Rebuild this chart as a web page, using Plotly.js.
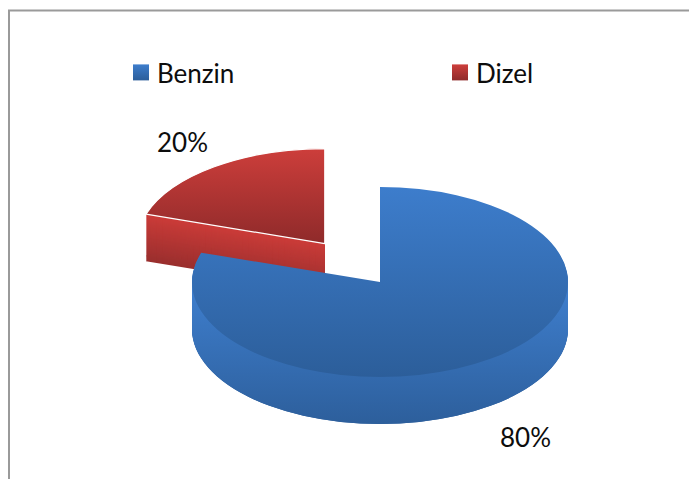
<!DOCTYPE html>
<html>
<head>
<meta charset="utf-8">
<script src="https://cdn.plot.ly/plotly-3.0.1.min.js"></script>
<style>html,body{margin:0;padding:0;background:#fff}#chart{width:689px;height:479px}</style>
</head>
<body>
<div id="chart"></div>
<script>
const categories = ['Benzin', 'Dizel'];
const shares = [80, 20];
const explode = [0, 0.5];

const W = 689, H = 479;
const FONT = 'Lato, "Open Sans", sans-serif';
const centre = {x: 380, y: 282}, radii = {x: 188, y: 95}, depth = 47;
const BLUE = {top: ['#3d7dcc', '#2c5e9a'], side: ['#3d7cca', '#2d5f9c']};
const RED = {top: ['#cd3e3b', '#8f2a2a'], side: ['#cc3c39', '#9a2f2e']};
const NONE = 'rgba(0,0,0,0)';

function mix(a, b, t) {
  const p = s => [1, 3, 5].map(i => parseInt(s.substr(i, 2), 16));
  const A = p(a), B = p(b);
  return 'rgb(' + A.map((v, i) => Math.round(v + (B[i] - v) * t)).join(',') + ')';
}

// Every layer is the same pie; layers stacked bottom to top make the extruded wall.
const layers = [];
layers.push({dy: depth, colors: [BLUE.side[1], RED.side[1]], legend: true});
for (let d = depth - 1; d >= 1; d--) layers.push({dy: d, colors: [NONE, mix(RED.side[0], RED.side[1], d / depth)], which: 1});
layers.push({dy: 0, colors: [NONE, RED.top[0]], which: 1, face: 'top', stroke: true});
for (let d = depth; d >= 1; d--) layers.push({dy: d, colors: [BLUE.side[0], NONE], which: 0, face: 'side'});
layers.push({dy: 0, colors: [BLUE.top[0], NONE], which: 0, face: 'top'});

const traces = layers.map(l => ({
  type: 'pie', labels: categories, values: shares, pull: explode,
  sort: false, direction: 'clockwise', rotation: 0,
  textinfo: 'none', hoverinfo: 'skip', showlegend: !!l.legend,
  domain: {x: [0, 1], y: [0, 1]},
  marker: {colors: l.colors, line: {color: '#ffffff', width: l.stroke ? [0, 1.2] : 0}}
}));

const total = shares.reduce((a, b) => a + b, 0);
const pct = shares.map(v => Math.round(v / total * 100) + '%');
const labelFont = {family: FONT, size: 26, color: '#0d0d0d'};

const layout = {
  width: W, height: H,
  margin: {l: 0, r: 0, t: 0, b: 0, autoexpand: false},
  paper_bgcolor: '#ffffff',
  showlegend: true,
  font: labelFont,
  legend: {
    orientation: 'h', x: 117 / W, xanchor: 'left', y: 1 - 49 / H, yanchor: 'top',
    entrywidth: 274, entrywidthmode: 'pixels', bgcolor: NONE, traceorder: 'normal',
    font: labelFont, itemclick: false, itemdoubleclick: false
  },
  annotations: [
    {text: pct[0], xref: 'paper', yref: 'paper', x: 525 / W, y: 1 - 437 / H, xanchor: 'center', yanchor: 'middle', showarrow: false, font: labelFont},
    {text: pct[1], xref: 'paper', yref: 'paper', x: 182 / W, y: 1 - 142 / H, xanchor: 'center', yanchor: 'middle', showarrow: false, font: labelFont}
  ],
  shapes: [{
    type: 'path', xref: 'paper', yref: 'paper', layer: 'above',
    path: 'M' + (9 / W) + ',0 L' + (9 / W) + ',' + (1 - 10.5 / H) + ' L1,' + (1 - 10.5 / H),
    line: {color: '#9a9a9a', width: 2}
  }]
};

const gd = document.getElementById('chart');
Plotly.newPlot(gd, traces, layout, {staticPlot: true, displayModeBar: false}).then(() => {
  const NS = 'http://www.w3.org/2000/svg';
  const svg = gd.querySelector('.main-svg');
  const defs = document.createElementNS(NS, 'defs');
  svg.insertBefore(defs, svg.firstChild);
  let uid = 0;
  function grad(c1, c2, attrs) {
    const g = document.createElementNS(NS, 'linearGradient');
    g.setAttribute('id', 'g' + (++uid));
    Object.keys(attrs).forEach(k => g.setAttribute(k, attrs[k]));
    [[0, c1], [1, c2]].forEach(s => {
      const st = document.createElementNS(NS, 'stop');
      st.setAttribute('offset', s[0]); st.setAttribute('stop-color', s[1]);
      g.appendChild(st);
    });
    defs.appendChild(g);
    return 'url(#g' + uid + ')';
  }
  // Gradient that runs between two page heights whatever transform the path has.
  function pageGrad(path, Y1, Y2, c1, c2) {
    const m = path.getCTM();
    return grad(c1, c2, {gradientUnits: 'userSpaceOnUse', x1: 0, x2: 0,
      y1: (Y1 - m.f) / m.d, y2: (Y2 - m.f) / m.d});
  }
  const r = (H / 2) / (1 + Math.max.apply(null, explode));
  const sx = radii.x / r, sy = radii.y / r;
  const groups = gd.querySelectorAll('.pielayer .trace');
  groups.forEach((g, i) => {
    const l = layers[i];
    g.setAttribute('transform',
      'translate(' + centre.x + ',' + (centre.y + l.dy) + ') scale(' + sx + ',' + sy + ') translate(' + (-W / 2) + ',' + (-H / 2) + ')');
    const paths = g.querySelectorAll('path.surface');
    paths.forEach(p => { p.style.vectorEffect = 'non-scaling-stroke'; });
    if (!l.face) return;
    const p = paths[l.which];
    if (l.which === 0 && l.face === 'top') p.style.fill = pageGrad(p, 187, 377, BLUE.top[0], BLUE.top[1]);
    if (l.which === 0 && l.face === 'side') p.style.fill = pageGrad(p, 296, 423, BLUE.side[0], BLUE.side[1]);
    if (l.which === 1 && l.face === 'top') p.style.fill = pageGrad(p, 148, 243, RED.top[0], RED.top[1]);
  });
  const swatch = [[BLUE.top[0], BLUE.top[1]], [RED.top[0], RED.top[1]]];
  const rows = gd.querySelectorAll('.legend .traces');
  rows.forEach((t, i) => {
    const p = t.querySelector('.legendpoints path');
    if (p) {
      p.setAttribute('transform', 'translate(24,0) scale(1.333)');
      p.style.fill = grad(swatch[i][0], swatch[i][1], {x1: 0, x2: 0, y1: 0, y2: 1});
      p.style.strokeWidth = 0;
    }
  });
});
</script>
</body>
</html>
